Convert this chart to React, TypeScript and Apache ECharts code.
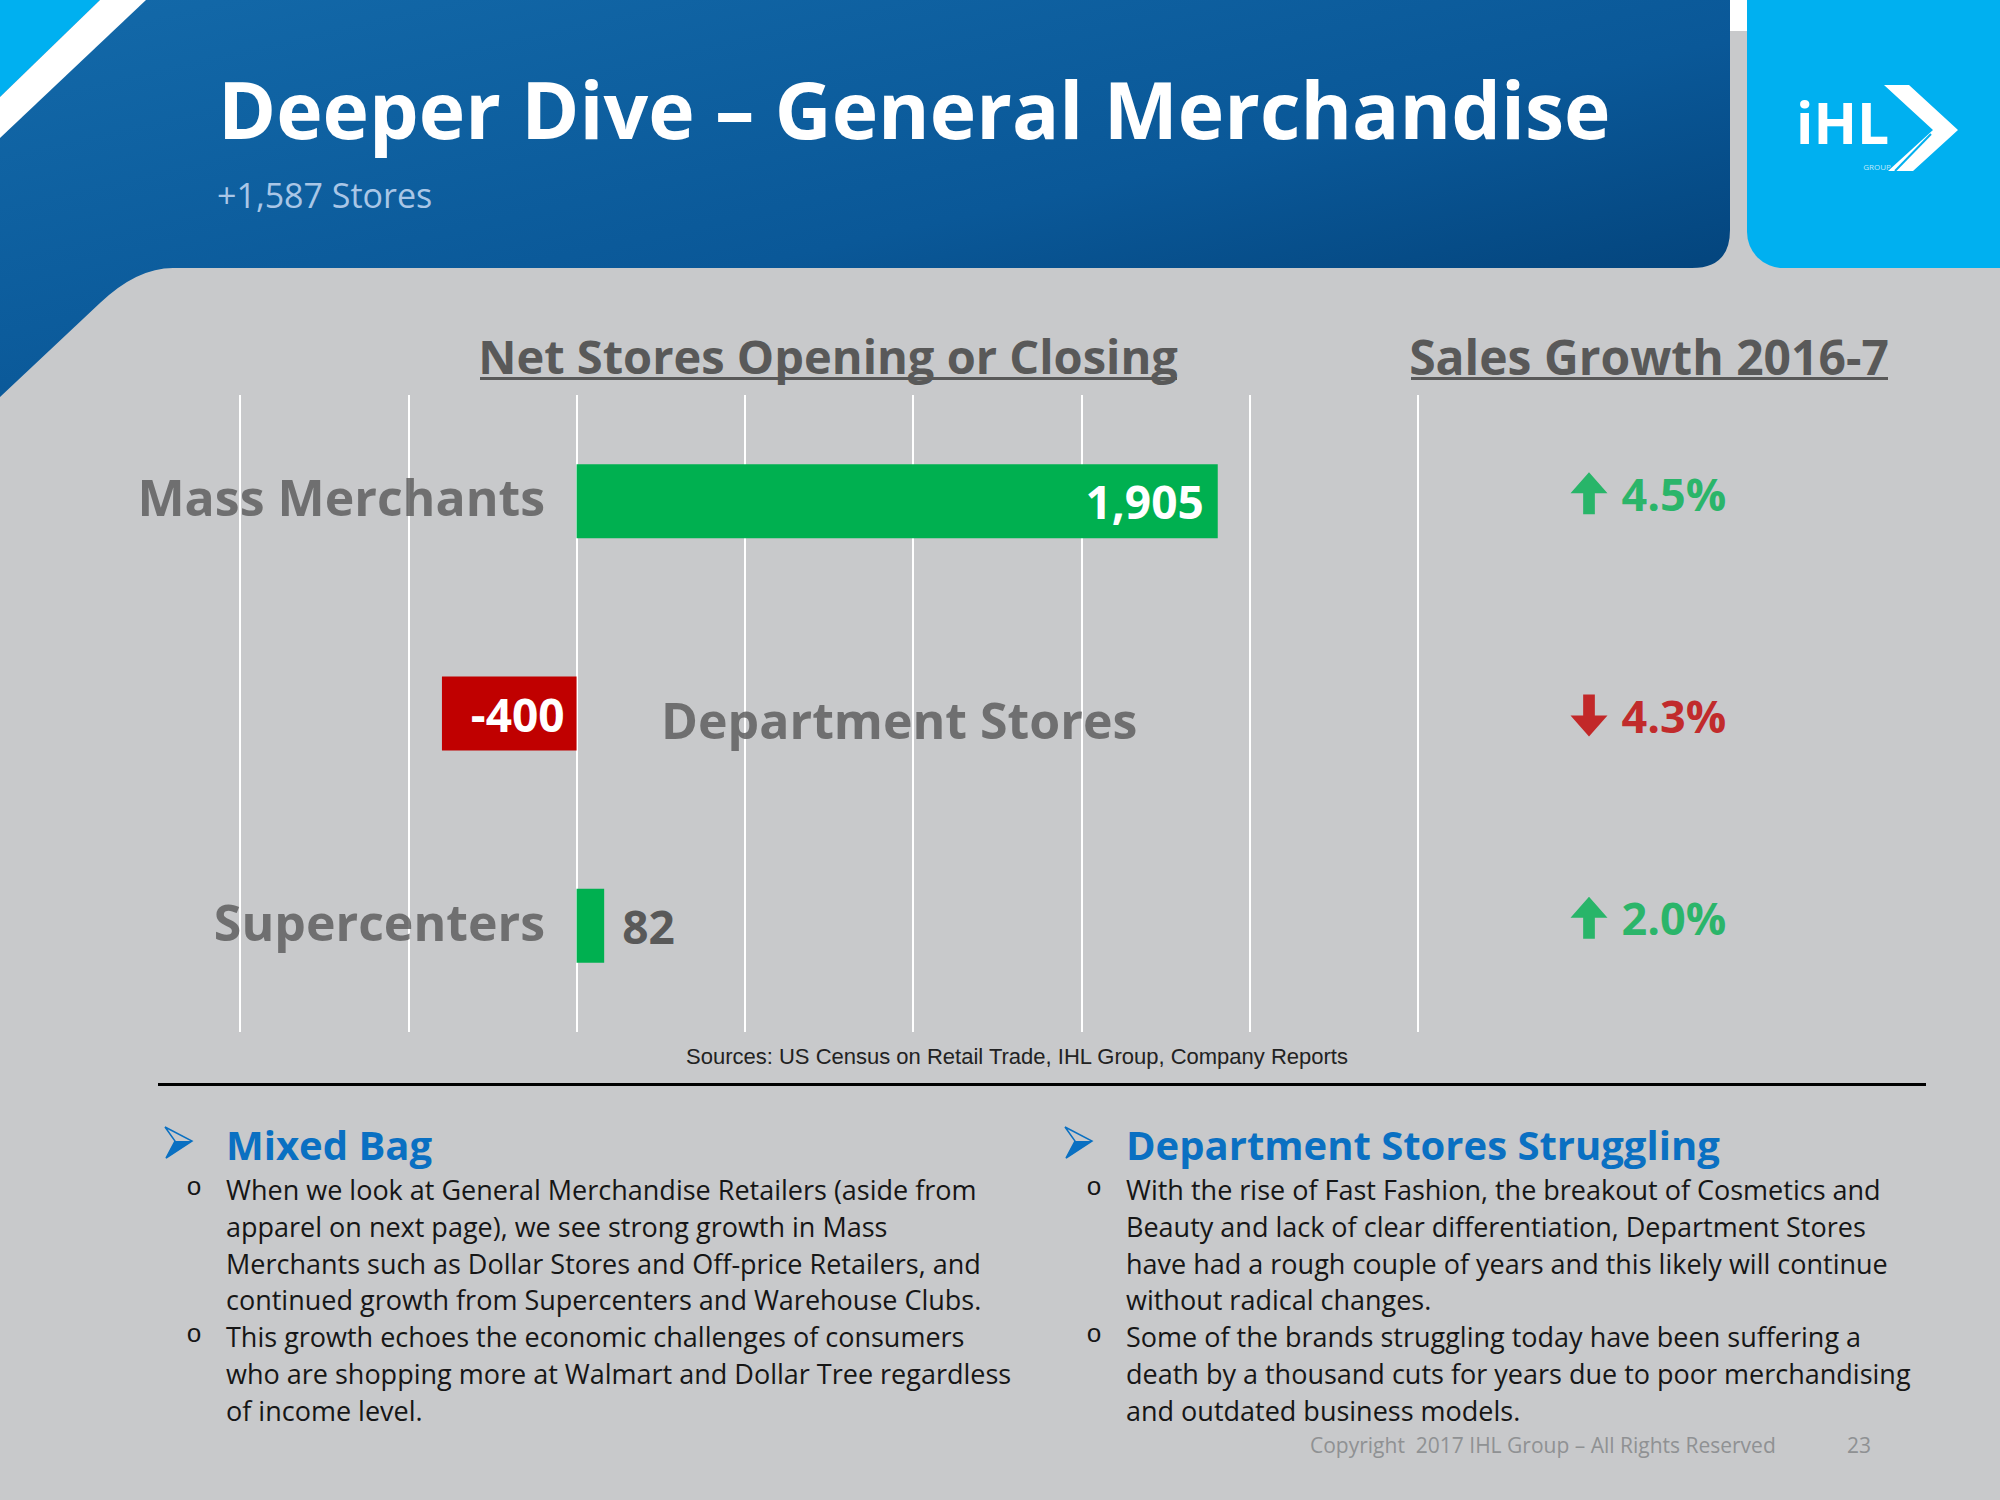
import React, { useEffect, useRef } from "react";
import * as echarts from "echarts";

// ---------- data ----------
const categories = ["Mass Merchants", "Department Stores", "Supercenters"];
const netStoreChanges = [1905, -400, 82];
const salesGrowth = [4.5, -4.3, 2.0];
const salesColumn = ["Sales Growth 2016-7"];
const axisMin = -1000;
const axisMax = 2500;
const axisInterval = 500;

const titleText = "Deeper Dive \u2013 General Merchandise";
const subtitleText = "+1,587 Stores";
const chartHeading = "Net Stores Opening or Closing";
const growthHeading = "Sales Growth 2016-7";
const sourcesText = "Sources: US Census on Retail Trade, IHL Group, Company Reports";
const leftHeading = "Mixed Bag";
const leftParagraphs = [
  [
    "When we look at General Merchandise Retailers (aside from",
    "apparel on next page), we see strong growth in Mass",
    "Merchants such as Dollar Stores and Off-price Retailers, and",
    "continued growth from Supercenters and Warehouse Clubs.",
  ],
  [
    "This growth echoes the economic challenges of consumers",
    "who are shopping more at Walmart and Dollar Tree regardless",
    "of income level.",
  ],
];
const rightHeading = "Department Stores Struggling";
const rightParagraphs = [
  [
    "With the rise of Fast Fashion, the breakout of Cosmetics and",
    "Beauty and lack of clear differentiation, Department Stores",
    "have had a rough couple of years and this likely will continue",
    "without radical changes.",
  ],
  [
    "Some of the brands struggling today have been suffering a",
    "death by a thousand cuts for years due to poor merchandising",
    "and outdated business models.",
  ],
];
const copyrightText = "Copyright  2017 IHL Group \u2013 All Rights Reserved";
const pageNumber = "23";
const logoText = "iHL";
const logoSub = "GROUP";

// ---------- styles ----------
const FONT = '"Open Sans", "Noto Sans", "DejaVu Sans", sans-serif';
const GREEN = "#00b050";
const RED = "#c00000";
const LABEL_GREY = "#595959";
const BLUE = "#0a70c2";
const CYAN = "#00b0f0";
const BODY = "#161616";

const HEADER_D =
  "M0,0 L1730,0 L1730,230 Q1730,268 1692,268 L173,268 Q137,268 100,303 L0,397 Z";
const ARROW = "path://M19,0 L38,21 L25,21 L25,42 L13,42 L13,21 L0,21 Z";

let shapesRegistered = false;
function registerShapes() {
  if (shapesRegistered) return;
  echarts.graphic.registerShape(
    "hdrShape",
    (echarts.graphic as any).extendPath(HEADER_D, {})
  );
  shapesRegistered = true;
}

function txt(
  text: string,
  x: number,
  y: number,
  size: number,
  color: string,
  weight: string = "normal",
  align: string = "left",
  family: string = FONT,
  lineHeight?: number
) {
  const style: any = {
    text,
    fill: color,
    fontSize: size,
    fontWeight: weight,
    fontFamily: family,
    align,
    textAlign: align,
    verticalAlign: "middle",
    textVerticalAlign: "middle",
  };
  if (lineHeight) style.lineHeight = lineHeight;
  return { type: "text", x, y, silent: true, style };
}

function bulletBlock(x0: number, heading: string, paragraphs: string[][]) {
  const els: any[] = [];
  els.push({
    type: "polygon",
    silent: true,
    shape: { points: [[x0 - 61, 1127], [x0 - 34, 1141], [x0 - 60, 1158], [x0 - 51, 1141]] },
    style: { fill: "rgba(0,0,0,0)", stroke: BLUE, lineWidth: 1.5 },
  });
  els.push({
    type: "polygon",
    silent: true,
    shape: { points: [[x0 - 51, 1141], [x0 - 34, 1141], [x0 - 60, 1158]] },
    style: { fill: BLUE },
  });
  els.push(txt(heading, x0, 1144, 40, BLUE, "bold"));
  let line = 0;
  paragraphs.forEach((p) => {
    els.push(
      txt("o", x0 - 32, 1188 + line * 36.8, 26, BODY, "normal", "center", '"Liberation Mono", monospace', 30)
    );
    p.forEach((l) => {
      els.push(txt(l, x0, 1189.5 + line * 36.8, 27, BODY, "normal", "left", FONT, 34));
      line++;
    });
  });
  return els;
}

function buildOption() {
  const graphicEls: any[] = [
    // header
    {
      type: "hdrShape",
      x: 0,
      y: 0,
      silent: true,
      style: {
        fill: new echarts.graphic.LinearGradient(0, 0, 1, 1, [
          { offset: 0, color: "#1369a9" },
          { offset: 0.55, color: "#0a5898" },
          { offset: 1, color: "#003a6e" },
        ]),
      },
    },
    { type: "polygon", silent: true, shape: { points: [[0, 0], [100, 0], [0, 97]] }, style: { fill: CYAN } },
    { type: "polygon", silent: true, shape: { points: [[100, 0], [146, 0], [0, 138], [0, 97]] }, style: { fill: "#ffffff" } },
    { type: "rect", silent: true, shape: { x: 1730, y: 0, width: 17, height: 31 }, style: { fill: "#ffffff" } },
    { type: "rect", silent: true, shape: { x: 1747, y: 0, width: 253, height: 268, r: [0, 0, 0, 36] }, style: { fill: CYAN } },
    // logo
    txt(logoText, 1796, 122, 57, "#ffffff", "bold", "left", FONT, 42),
    txt(logoSub, 1877, 166, 8, "rgba(255,255,255,0.75)", "normal", "center", FONT, 9),
    {
      type: "polygon",
      silent: true,
      shape: { points: [[1884, 85], [1909, 85], [1958, 130], [1913, 171], [1888, 171], [1933, 130]] },
      style: { fill: "#ffffff" },
    },
    { type: "line", silent: true, shape: { x1: 1895, y1: 171, x2: 1931, y2: 134 }, style: { stroke: CYAN, lineWidth: 2 } },
    // titles
    txt(titleText, 218, 108, 78.6, "#ffffff", "bold"),
    txt(subtitleText, 217, 195, 34, "#a9c6e6"),
    // chart headings
    txt(chartHeading, 828, 356, 47, LABEL_GREY, "bold", "center"),
    { type: "rect", silent: true, shape: { x: 480, y: 377, width: 697, height: 3 }, style: { fill: LABEL_GREY } },
    txt(growthHeading, 1649, 356, 48, LABEL_GREY, "bold", "center"),
    { type: "rect", silent: true, shape: { x: 1411, y: 377, width: 477, height: 3 }, style: { fill: LABEL_GREY } },
    // sources & rule
    txt(sourcesText, 1017, 1056, 22, "#222222", "normal", "center", '"Liberation Sans", Arial, sans-serif'),
    { type: "rect", silent: true, shape: { x: 158, y: 1083, width: 1768, height: 3 }, style: { fill: "#000000" } },
    ...bulletBlock(226, leftHeading, leftParagraphs),
    ...bulletBlock(1126, rightHeading, rightParagraphs),
    txt(copyrightText, 1310, 1445, 21, "#8f9193"),
    txt(pageNumber, 1847, 1445, 21, "#8f9193"),
  ];

  return {
    animation: false,
    backgroundColor: "#c8c9cb",
    grid: [
      { left: 240, right: 582, top: 395, bottom: 468, containLabel: false },
      { left: 1540, right: 362, top: 395, bottom: 468, containLabel: false },
    ],
    xAxis: [
      {
        type: "value",
        gridIndex: 0,
        min: axisMin,
        max: axisMax,
        interval: axisInterval,
        axisLine: { show: false },
        axisTick: { show: false },
        axisLabel: { show: false },
        splitLine: { show: true, lineStyle: { color: "#ffffff", width: 2 } },
      },
      { type: "category", gridIndex: 1, data: salesColumn, show: false },
    ],
    yAxis: [
      {
        type: "category",
        gridIndex: 0,
        data: categories,
        inverse: true,
        axisLine: { show: false },
        axisTick: { show: false },
        axisLabel: { show: false },
        splitLine: { show: false },
      },
      { type: "category", gridIndex: 1, data: categories, inverse: true, show: false },
    ],
    series: [
      {
        type: "bar",
        xAxisIndex: 0,
        yAxisIndex: 0,
        barWidth: 74,
        silent: true,
        z: 3,
        data: netStoreChanges.map((v) => {
          const inside = Math.abs(v) >= 200;
          return {
            value: v,
            itemStyle: { color: v >= 0 ? GREEN : RED },
            label: {
              show: true,
              position: inside ? "insideRight" : "right",
              distance: inside ? (v >= 0 ? 14 : 12) : 18,
              color: inside ? "#ffffff" : LABEL_GREY,
              fontSize: 46,
              fontWeight: "bold",
              fontFamily: FONT,
              formatter: (p: any) => Number(p.value).toLocaleString("en-US"),
            },
          };
        }),
      },
      {
        type: "scatter",
        xAxisIndex: 0,
        yAxisIndex: 0,
        symbolSize: 1,
        silent: true,
        z: 4,
        itemStyle: { color: "rgba(0,0,0,0)" },
        label: {
          show: true,
          formatter: (p: any) => p.value[1],
          color: LABEL_GREY,
          fontSize: 50,
          fontWeight: "bold",
          fontFamily: FONT,
        },
        data: categories.map((c, i) => {
          const pos = netStoreChanges[i] >= 0;
          return {
            value: [0, c],
            label: {
              position: pos ? "left" : "right",
              distance: pos ? 31 : 84,
              offset: [0, pos ? -4 : 6],
            },
          };
        }),
      },
      {
        type: "scatter",
        xAxisIndex: 1,
        yAxisIndex: 1,
        symbol: ARROW,
        symbolSize: [37, 42],
        silent: true,
        label: {
          show: true,
          position: "right",
          distance: 14,
          fontSize: 45,
          fontWeight: "bold",
          fontFamily: FONT,
          formatter: (p: any) => Math.abs(p.value[2]).toFixed(1) + "%",
        },
        data: salesGrowth.map((g, i) => ({
          value: [salesColumn[0], categories[i], g],
          symbolRotate: g < 0 ? 180 : 0,
          symbolOffset: [0, g < 0 ? 2 : -8],
          itemStyle: { color: g >= 0 ? GREEN : RED },
          label: { color: g >= 0 ? GREEN : RED },
        })),
      },
    ],
    graphic: { elements: graphicEls },
  };
}

export default function App() {
  const ref = useRef<HTMLDivElement>(null);
  useEffect(() => {
    if (!ref.current) return;
    registerShapes();
    const chart = echarts.init(ref.current, undefined, { renderer: "svg" });
    chart.setOption(buildOption() as any);
    return () => chart.dispose();
  }, []);
  return (
    <div
      ref={ref}
      style={{ position: "fixed", left: 0, top: 0, width: 2000, height: 1500 }}
    />
  );
}
